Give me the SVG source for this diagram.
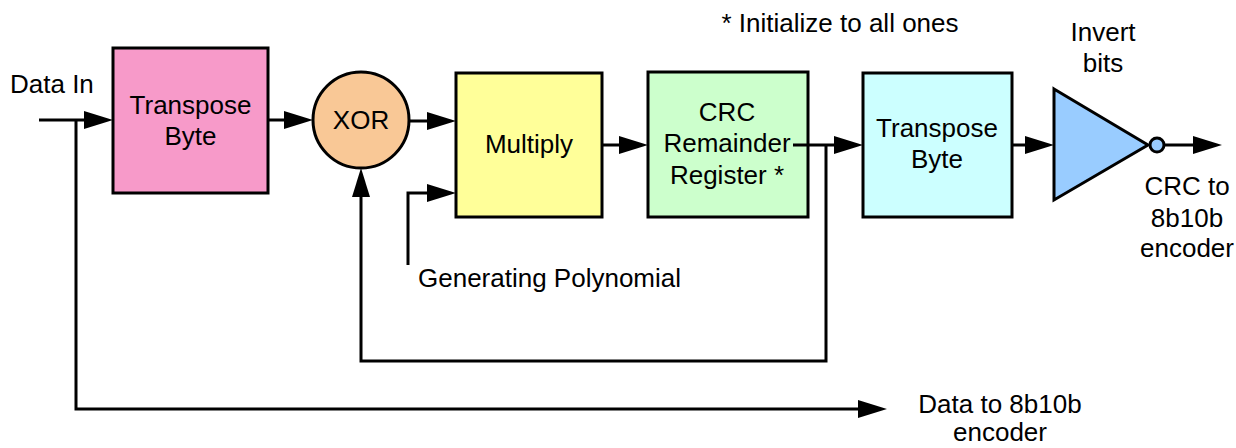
<svg xmlns="http://www.w3.org/2000/svg" width="1236" height="448" viewBox="0 0 1236 448">
<style>
text{font-family:"Liberation Sans",Arial,sans-serif;font-size:26px;fill:#000}
.c{text-anchor:middle}
.box{stroke:#000;stroke-width:3}
.ln{fill:none;stroke:#000;stroke-width:3}
.ar{marker-end:url(#ah)}
</style>
<defs>
<marker id="ah" markerUnits="userSpaceOnUse" markerWidth="30" markerHeight="20" refX="19" refY="9" orient="auto" overflow="visible">
<path d="M0,0 L29,9 L0,18 z" fill="#000"/>
</marker>
</defs>
<rect width="1236" height="448" fill="#fff"/>
<g id="connectors">
<path class="ln ar" d="M39,120 H103"/>
<path class="ln ar" d="M76,120 V409 H877"/>
<path class="ln ar" d="M268,120 H303"/>
<path class="ln ar" d="M409,121 H446"/>
<path class="ln ar" d="M408,265 V193 H446"/>
<path class="ln ar" d="M826,145 V361 H361 V178"/>
<path class="ln ar" d="M602,145 H638"/>
<path class="ln ar" d="M1012,145 H1044"/>
<path class="ln ar" d="M1164,145 H1212"/>
</g>
<g id="transpose1">
<rect class="box" x="113" y="48" width="155" height="145" fill="#f79ac9"/>
<text class="c" x="190.5" y="114">Transpose</text>
<text class="c" x="190.5" y="145">Byte</text>
</g>
<g id="xor">
<circle class="box" cx="361" cy="120" r="48" fill="#f9c896"/>
<text class="c" x="361" y="129">XOR</text>
</g>
<g id="multiply">
<rect class="box" x="456" y="73" width="146" height="144" fill="#ffff99"/>
<text class="c" x="529" y="153">Multiply</text>
</g>
<g id="crc">
<rect class="box" x="648" y="72" width="160" height="145" fill="#ccffcc"/>
<text class="c" x="727" y="121">CRC</text>
<text class="c" x="727" y="152">Remainder</text>
<text class="c" x="727" y="184">Register *</text>
</g>
<path class="ln ar" d="M793,145 H853"/>
<g id="transpose2">
<rect class="box" x="863" y="73" width="149" height="144" fill="#ccffff"/>
<text class="c" x="937" y="137">Transpose</text>
<text class="c" x="937" y="168">Byte</text>
</g>
<g id="invert">
<polygon class="box" points="1054,89 1148,145 1054,200" fill="#99ccff" stroke-linejoin="miter"/>
<circle class="box" cx="1157" cy="145" r="7" fill="#99ccff" stroke-width="2.5"/>
<text class="c" x="1103" y="41">Invert</text>
<text class="c" x="1103" y="72">bits</text>
</g>
<g id="labels">
<text x="10" y="93">Data In</text>
<text x="840" y="32" class="c">* Initialize to all ones</text>
<text x="418" y="287">Generating Polynomial</text>
<text class="c" x="1187" y="195">CRC to</text>
<text class="c" x="1187" y="227">8b10b</text>
<text class="c" x="1187" y="257">encoder</text>
<text class="c" x="1000" y="413">Data to 8b10b</text>
<text class="c" x="1000" y="441">encoder</text>
</g>
</svg>
